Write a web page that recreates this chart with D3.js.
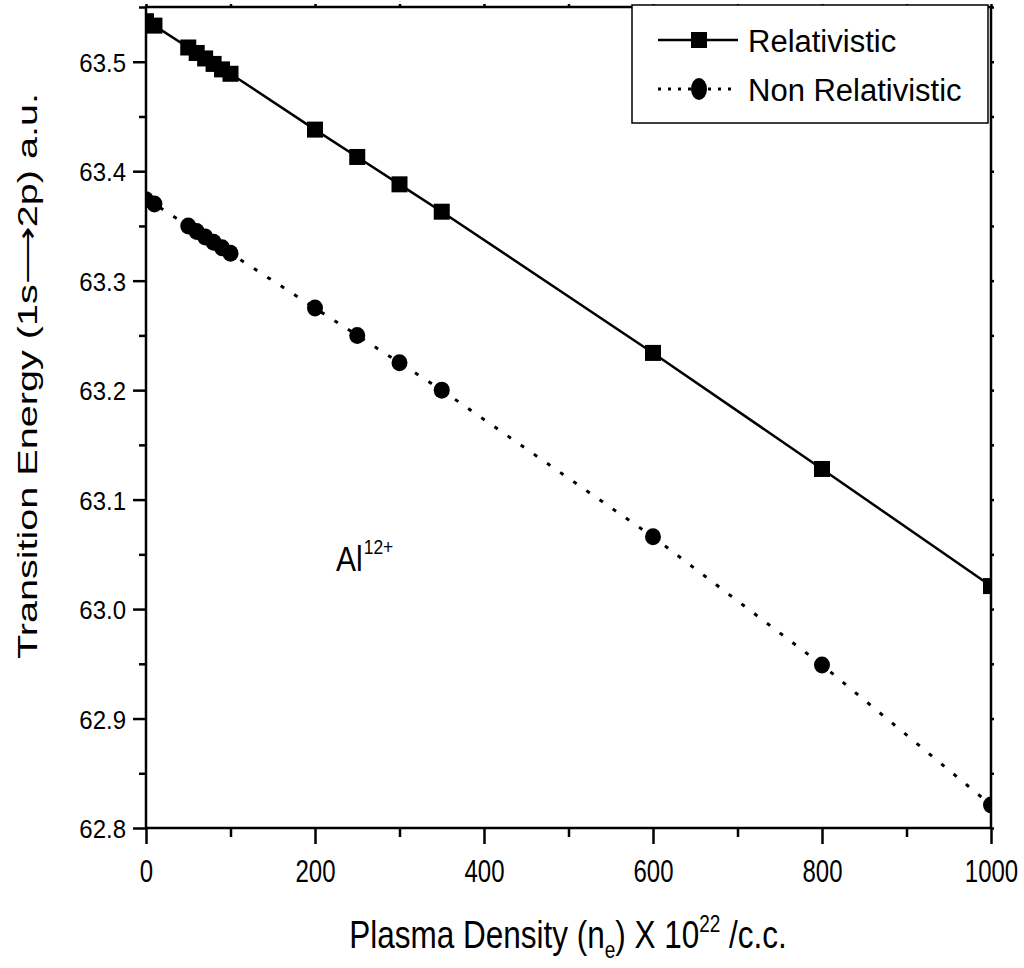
<!DOCTYPE html>
<html>
<head>
<meta charset="utf-8">
<script src="https://cdn.jsdelivr.net/npm/d3@7"></script>
<style>
  body { margin: 0; background: #fff; }
  text { font-family: "Liberation Sans", Arial, Helvetica, sans-serif; fill: #000; }
</style>
</head>
<body>
<div id="chart"></div>
<script>
// plasma density (x 10^22 /c.c.)
var density = [0, 10, 50, 60, 70, 80, 90, 100, 200, 250, 300, 350, 600, 800, 1000];
// transition energy 1s -> 2p (a.u.)
var relativistic = [63.537, 63.533, 63.513, 63.508, 63.503, 63.498, 63.493, 63.489,
                    63.438, 63.413, 63.388, 63.363, 63.234, 63.128, 63.021];
var nonRelativistic = [63.374, 63.370, 63.350, 63.345, 63.340, 63.335, 63.330, 63.325,
                       63.275, 63.250, 63.225, 63.200, 63.066, 62.949, 62.821];
var xTicks = [0, 200, 400, 600, 800, 1000];
var xMinor = [100, 300, 500, 700, 900];
var yTicks = [62.8, 62.9, 63.0, 63.1, 63.2, 63.3, 63.4, 63.5];
var yMinor = [62.85, 62.95, 63.05, 63.15, 63.25, 63.35, 63.45, 63.55];
var seriesNames = ["Relativistic", "Non Relativistic"];

var W = 1024, H = 968;
var margin = {top: 7, right: 33, bottom: 140, left: 146};
var width = W - margin.left - margin.right,
    height = H - margin.top - margin.bottom;

var svg = d3.select("#chart").append("svg")
    .attr("width", W)
    .attr("height", H);

var g = svg.append("g")
    .attr("transform", "translate(" + margin.left + "," + margin.top + ")");

var x = d3.scaleLinear().domain([0, 1000]).range([0, width]);
var y = d3.scaleLinear().domain([62.8, 63.55]).range([height, 0]);

// clip so markers at the edge get cut by the frame
g.append("clipPath").attr("id", "plotclip")
  .append("rect").attr("width", width).attr("height", height);

// ---- axes ----
function styleAxis(sel) {
    sel.select(".domain").remove();
    sel.selectAll("line").attr("stroke", "#000").attr("stroke-width", 2.5);
}

// bottom
var gx = g.append("g").attr("transform", "translate(0," + height + ")")
    .call(d3.axisBottom(x).tickValues(xTicks).tickSize(16).tickFormat(d3.format("d")));
styleAxis(gx);
gx.selectAll("text")
    .attr("y", 0).attr("dy", 0)
    .attr("font-size", 24)
    .attr("transform", "translate(0,54) scale(1,1.32)");
g.append("g").attr("transform", "translate(0," + height + ")")
    .call(d3.axisBottom(x).tickValues(xMinor).tickSize(9).tickFormat(""))
    .call(styleAxis);

// left
var gy = g.append("g")
    .call(d3.axisLeft(y).tickValues(yTicks).tickSize(13).tickPadding(7).tickFormat(d3.format(".1f")));
styleAxis(gy);
gy.selectAll("text")
    .attr("font-size", 24).attr("dy", "0.36em")
    .attr("transform", "scale(1,1.1)");
g.append("g")
    .call(d3.axisLeft(y).tickValues(yMinor).tickSize(7).tickFormat(""))
    .call(styleAxis);

// top & right: tiny outside ticks
g.append("g")
    .call(d3.axisTop(x).tickValues(xTicks.concat(xMinor)).tickSize(3).tickFormat(""))
    .call(styleAxis);
g.append("g").attr("transform", "translate(" + width + ",0)")
    .call(d3.axisRight(y).tickValues(yTicks.concat(yMinor)).tickSize(3).tickFormat(""))
    .call(styleAxis);

// frame
g.append("rect")
    .attr("width", width).attr("height", height)
    .attr("fill", "none").attr("stroke", "#000").attr("stroke-width", 2.5);

// ---- series ----
var relData = density.map(function(d, i) { return {x: d, y: relativistic[i]}; });
var nonData = density.map(function(d, i) { return {x: d, y: nonRelativistic[i]}; });

var line = d3.line()
    .x(function(d) { return x(d.x); })
    .y(function(d) { return y(d.y); });

var plot = g.append("g").attr("clip-path", "url(#plotclip)");

plot.append("path").datum(relData)
    .attr("fill", "none").attr("stroke", "#000").attr("stroke-width", 2.5)
    .attr("d", line);

plot.append("path").datum(nonData)
    .attr("fill", "none").attr("stroke", "#000").attr("stroke-width", 3)
    .attr("stroke-dasharray", "4,12")
    .attr("d", line);

var sq = 16;
plot.selectAll(".sq").data(relData).enter().append("rect")
    .attr("class", "sq")
    .attr("x", function(d) { return x(d.x) - sq / 2; })
    .attr("y", function(d) { return y(d.y) - sq / 2; })
    .attr("width", sq).attr("height", sq)
    .attr("fill", "#000");

plot.selectAll(".dot").data(nonData).enter().append("ellipse")
    .attr("class", "dot")
    .attr("cx", function(d) { return x(d.x); })
    .attr("cy", function(d) { return y(d.y); })
    .attr("rx", 8).attr("ry", 8.5)
    .attr("fill", "#000");

// ---- axis titles ----
var xt = svg.append("text")
    .attr("text-anchor", "middle")
    .attr("font-size", 31.5)
    .attr("transform", "translate(568,948) scale(1,1.25)");
xt.append("tspan").text("Plasma Density (n");
xt.append("tspan").attr("font-size", 19).attr("dy", 8).text("e");
xt.append("tspan").attr("dy", -8).text(") X 10");
xt.append("tspan").attr("font-size", 19).attr("dy", -13).text("22");
xt.append("tspan").attr("dy", 13).text(" /c.c.");

svg.append("text")
    .attr("text-anchor", "middle")
    .attr("font-size", 27.5)
    .attr("transform", "translate(37,376) rotate(-90) scale(1.44,1)")
    .text("Transition Energy (1s\u27F62p) a.u.");

// ---- annotation ----
var al = svg.append("text")
    .attr("font-size", 30)
    .attr("transform", "translate(336,571) scale(1,1.15)");
al.append("tspan").text("Al");
al.append("tspan").attr("font-size", 17.5).attr("dy", -15).attr("dx", 1).text("12+");

// ---- legend ----
var leg = svg.append("g");
leg.append("rect")
    .attr("x", 632).attr("y", 5).attr("width", 356).attr("height", 118)
    .attr("fill", "#fff").attr("stroke", "#000").attr("stroke-width", 1.5);

var rows = [40, 89];
seriesNames.forEach(function(name, i) {
    var ry = rows[i];
    leg.append("line")
        .attr("x1", 658).attr("x2", 738).attr("y1", ry).attr("y2", ry)
        .attr("stroke", "#000")
        .attr("stroke-width", i === 0 ? 2.5 : 3)
        .attr("stroke-dasharray", i === 0 ? null : "3,7");
    if (i === 0) {
        leg.append("rect").attr("x", 691).attr("y", ry - 8)
            .attr("width", 16).attr("height", 16).attr("fill", "#000");
    } else {
        leg.append("ellipse").attr("cx", 699).attr("cy", ry)
            .attr("rx", 8).attr("ry", 11).attr("fill", "#000");
    }
    leg.append("text")
        .attr("font-size", 31)
        .attr("transform", "translate(748," + (ry + 12) + ")")
        .text(name);
});
</script>
</body>
</html>
